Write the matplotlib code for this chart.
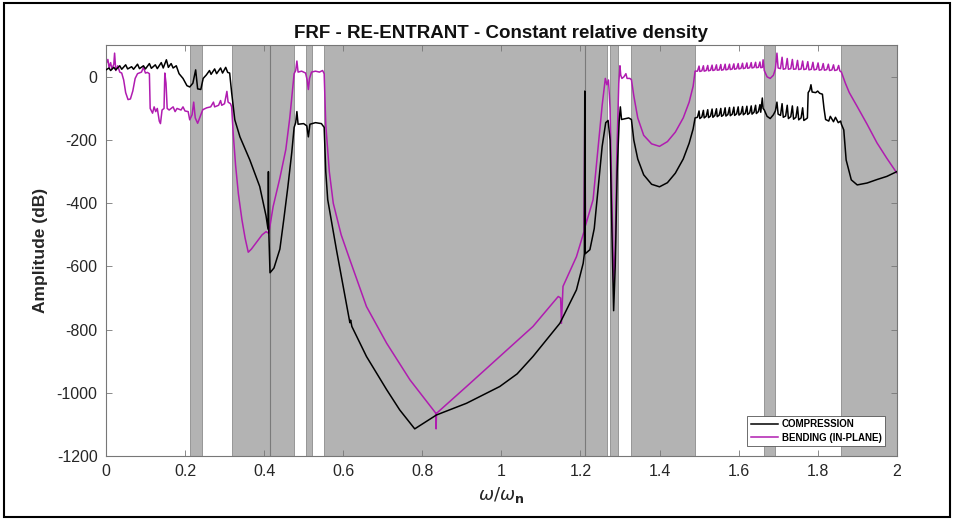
import matplotlib
matplotlib.use('Agg')
import matplotlib.pyplot as plt
from matplotlib.patches import Rectangle

plt.rcParams['font.family'] = ['Liberation Sans', 'DejaVu Sans']
plt.rcParams['axes.unicode_minus'] = False

# band limits (stop bands)
band_start = [0.212, 0.318, 0.506, 0.551, 1.274, 1.329, 1.665, 1.860]
band_end = [0.243, 0.476, 0.521, 1.266, 1.296, 1.489, 1.693, 2.000]
band_lines = [0.416, 1.211]

# COMPRESSION curve
comp_x = [0.000, 0.008, 0.012, 0.020, 0.025, 0.035, 0.040, 0.050, 0.055, 0.065,
          0.070, 0.080, 0.085, 0.095, 0.100, 0.110, 0.115, 0.125, 0.130, 0.140,
          0.145, 0.153, 0.158, 0.165, 0.170, 0.178, 0.185, 0.195, 0.205, 0.212,
          0.220, 0.227, 0.232, 0.240, 0.246, 0.254, 0.262, 0.266, 0.275, 0.280,
          0.290, 0.295, 0.303, 0.308, 0.313, 0.318, 0.326, 0.339, 0.364, 0.389,
          0.405, 0.410, 0.411, 0.412, 0.415, 0.425, 0.440, 0.450, 0.460, 0.470,
          0.476, 0.480, 0.483, 0.486, 0.500, 0.508, 0.512, 0.516, 0.530, 0.545,
          0.552, 0.556, 0.561, 0.583, 0.617, 0.619, 0.622, 0.659, 0.710, 0.743,
          0.781, 0.836, 0.912, 0.996, 1.040, 1.080, 1.148, 1.190, 1.207, 1.210,
          1.211, 1.212, 1.224, 1.235, 1.245, 1.255, 1.264, 1.270, 1.275, 1.279,
          1.284, 1.288, 1.293, 1.298, 1.301, 1.304, 1.315, 1.322, 1.329, 1.335,
          1.345, 1.360, 1.380, 1.400, 1.420, 1.440, 1.460, 1.475, 1.485, 1.490,
          1.496, 1.500, 1.502, 1.507, 1.511, 1.513, 1.518, 1.522, 1.524, 1.529,
          1.533, 1.535, 1.540, 1.544, 1.546, 1.551, 1.555, 1.557, 1.562, 1.566,
          1.568, 1.573, 1.577, 1.579, 1.584, 1.588, 1.590, 1.595, 1.599, 1.601,
          1.606, 1.610, 1.612, 1.617, 1.621, 1.623, 1.628, 1.632, 1.634, 1.639,
          1.643, 1.645, 1.650, 1.654, 1.656, 1.660, 1.662, 1.665, 1.672, 1.680,
          1.688, 1.693, 1.697, 1.700, 1.706, 1.710, 1.713, 1.719, 1.723, 1.726,
          1.732, 1.736, 1.739, 1.745, 1.749, 1.752, 1.758, 1.762, 1.765, 1.770,
          1.774, 1.776, 1.780, 1.783, 1.786, 1.795, 1.800, 1.805, 1.812, 1.816,
          1.820, 1.828, 1.832, 1.840, 1.845, 1.852, 1.858, 1.860, 1.866, 1.872,
          1.885, 1.900, 1.925, 1.950, 1.975, 2.000]
comp_y = [22, 28, 20, 30, 22, 35, 24, 38, 25, 32,
          24, 40, 26, 35, 25, 42, 27, 38, 26, 45,
          28, 54, 30, 42, 28, 35, 10, -5, -28, -32,
          -20, 22, -38, -40, -5, 6, 20, 8, 25, 10,
          28, 12, 30, 14, 12, -50, -136, -190, -263, -347,
          -440, -482, -300, -490, -620, -605, -545, -450, -350, -240,
          -160, -145, -110, -150, -148, -155, -190, -150, -145, -148,
          -160, -300, -389, -547, -778, -770, -790, -885, -990, -1054,
          -1114, -1070, -1033, -980, -940, -885, -780, -674, -590, -560,
          -45, -560, -547, -480, -350, -220, -145, -138, -200, -450,
          -740, -600, -300, -140, -95, -135, -132, -130, -135, -200,
          -260, -310, -340, -348, -335, -305, -260, -210, -165, -130,
          -128, -108, -132, -127, -106, -130, -125, -104, -129, -124,
          -102, -128, -122, -101, -126, -121, -100, -125, -120, -98,
          -124, -119, -97, -123, -118, -96, -122, -117, -95, -121,
          -116, -94, -120, -115, -93, -119, -114, -92, -118, -112,
          -90, -116, -110, -88, -112, -67, -100, -105, -125, -132,
          -120, -108, -80, -118, -122, -85, -128, -124, -90, -132,
          -126, -92, -134, -128, -95, -136, -130, -98, -138, -134,
          -130, -50, -42, -25, -48, -50, -45, -52, -55, -100,
          -135, -140, -125, -142, -128, -145, -140, -150, -168, -263,
          -326, -342, -336, -325, -315, -300]

# BENDING (IN-PLANE) curve
bend_x = [0.000, 0.005, 0.008, 0.012, 0.015, 0.020, 0.022, 0.025, 0.030, 0.035,
          0.040, 0.045, 0.050, 0.056, 0.062, 0.068, 0.074, 0.080, 0.090, 0.095,
          0.100, 0.105, 0.110, 0.112, 0.118, 0.122, 0.126, 0.130, 0.135, 0.138,
          0.142, 0.147, 0.149, 0.152, 0.155, 0.160, 0.170, 0.175, 0.180, 0.190,
          0.195, 0.200, 0.208, 0.212, 0.218, 0.222, 0.226, 0.232, 0.240, 0.245,
          0.255, 0.265, 0.272, 0.275, 0.285, 0.290, 0.293, 0.300, 0.306, 0.309,
          0.315, 0.318, 0.322, 0.328, 0.335, 0.344, 0.352, 0.360, 0.368, 0.380,
          0.395, 0.405, 0.412, 0.423, 0.440, 0.455, 0.465, 0.472, 0.476, 0.480,
          0.483, 0.486, 0.495, 0.505, 0.509, 0.512, 0.515, 0.520, 0.530, 0.540,
          0.548, 0.552, 0.556, 0.565, 0.575, 0.595, 0.617, 0.659, 0.710, 0.769,
          0.834, 0.835, 0.836, 0.912, 0.996, 1.080, 1.144, 1.150, 1.152, 1.155,
          1.156, 1.190, 1.209, 1.211, 1.213, 1.232, 1.245, 1.255, 1.263, 1.267,
          1.271, 1.275, 1.280, 1.284, 1.288, 1.292, 1.297, 1.300, 1.302, 1.305,
          1.310, 1.315, 1.318, 1.325, 1.329, 1.335, 1.345, 1.360, 1.380, 1.400,
          1.420, 1.440, 1.460, 1.475, 1.485, 1.490,
          1.496, 1.500, 1.502, 1.507, 1.511, 1.513, 1.518, 1.522, 1.524, 1.529,
          1.533, 1.535, 1.540, 1.544, 1.546, 1.551, 1.555, 1.557, 1.562, 1.566,
          1.568, 1.573, 1.577, 1.579, 1.584, 1.588, 1.590, 1.595, 1.599, 1.601,
          1.606, 1.610, 1.612, 1.617, 1.621, 1.623, 1.628, 1.632, 1.634, 1.639,
          1.643, 1.645, 1.650, 1.654, 1.656, 1.660, 1.662, 1.665, 1.672, 1.680,
          1.688, 1.693, 1.697, 1.700, 1.706, 1.710, 1.713, 1.719, 1.723, 1.726,
          1.732, 1.736, 1.739, 1.745, 1.749, 1.752, 1.758, 1.762, 1.765, 1.771,
          1.775, 1.778, 1.784, 1.788, 1.791, 1.797, 1.801, 1.804, 1.810, 1.814,
          1.817, 1.823, 1.827, 1.830, 1.836, 1.840, 1.843, 1.849, 1.853, 1.856,
          1.860, 1.870, 1.880, 1.900, 1.925, 1.950, 1.975, 2.000]
bend_y = [40, 55, 30, 45, 25, 40, 75, 20, 35, 15,
          12, -10, -50, -72, -70, -45, -5, 10, 15, 30,
          12, 14, 10, -100, -115, -95, -110, -100, -140, -148,
          -105, -100, 12, -20, -100, -105, -95, -110, -100, -105,
          -95, -108, -110, -136, -120, -80, -130, -147, -120, -104,
          -98, -95, -80, -95, -90, -75, -90, -85, -46, -80,
          -85, -95, -180, -280, -370, -452, -510, -555, -545, -525,
          -500, -490, -495, -410, -320, -230, -130, -40, 10, 20,
          50, 15, 18, 12, -10, -40, -5, 15, 18, 15,
          20, 10, -150, -300, -400, -500, -579, -727, -843, -959,
          -1064, -1114, -1065, -980, -885, -790, -695, -700, -780, -690,
          -663, -569, -490, -140, -470, -389, -220, -90, -5, -25,
          -10, -100, -400, -650, -550, -250, -20, 35, 5, -5,
          0, 10, -5, -5, -9, -60, -130, -185, -212, -220,
          -205, -175, -130, -80, -30, 18,
          18, 34, 17, 19, 35, 18, 20, 36, 19, 21,
          37, 20, 22, 38, 21, 22, 39, 21, 23, 40,
          22, 24, 40, 23, 25, 41, 24, 26, 42, 25,
          27, 43, 26, 28, 44, 27, 29, 45, 28, 30,
          46, 29, 30, 47, 29, 30, 54, 20, 0, -5,
          5, 25, 75, 28, 26, 62, 24, 26, 58, 24,
          26, 55, 24, 25, 52, 23, 25, 50, 23, 25,
          48, 22, 24, 46, 22, 24, 44, 21, 23, 42,
          21, 23, 40, 20, 22, 38, 20, 22, 36, 19,
          15, -20, -50, -94, -150, -209, -258, -304]

fig = plt.figure(figsize=(9.54, 5.2), dpi=100)
ax = fig.add_axes([0.111, 0.123, 0.829, 0.790])

for x0, x1 in zip(band_start, band_end):
    ax.axvspan(x0, x1, facecolor='#b3b3b3', edgecolor='#8c8c8c', lw=0.6, zorder=0)
for xl in band_lines:
    ax.axvline(xl, color='#7a7a7a', lw=0.8, zorder=0.5)

ax.plot(comp_x, comp_y, color='black', lw=1.1, label='COMPRESSION', zorder=3)
ax.plot(bend_x, bend_y, color='#b01cb0', lw=1.1, label='BENDING (IN-PLANE)', zorder=2)

ax.set_xlim(0, 2)
ax.set_ylim(-1200, 100)
ax.set_xticks([0, 0.2, 0.4, 0.6, 0.8, 1, 1.2, 1.4, 1.6, 1.8, 2])
ax.set_xticklabels(['0', '0.2', '0.4', '0.6', '0.8', '1', '1.2', '1.4', '1.6', '1.8', '2'])
ax.set_yticks([0, -200, -400, -600, -800, -1000, -1200])
ax.tick_params(direction='in', top=True, right=True, length=4, width=0.6,
               color='#777777', labelsize=11.5, labelcolor='#262626', pad=6)
for sp in ax.spines.values():
    sp.set_color('#777777')
    sp.set_linewidth(0.8)

ax.set_title('FRF - RE-ENTRANT - Constant relative density', fontsize=13.5,
             fontweight='bold', color='#111111', pad=5)
ax.set_ylabel('Amplitude (dB)', fontsize=12.5, fontweight='bold', color='#262626', labelpad=6)
ax.set_xlabel(r'$\omega/\omega_{\mathbf{n}}$', fontsize=13, color='#262626', labelpad=4)

leg = ax.legend(loc='lower right', bbox_to_anchor=(0.985, 0.024), borderaxespad=0,
                prop={'weight': 'bold', 'size': 7}, fancybox=False,
                framealpha=1, edgecolor='#555555', handlelength=2.8,
                borderpad=0.35, labelspacing=0.35, handletextpad=0.4)
leg.get_frame().set_linewidth(0.6)

# outer border of the picture
fig.patches.append(Rectangle((0.004, 0.006), 0.992, 0.988, transform=fig.transFigure,
                             fill=False, edgecolor='black', lw=1.5))

fig.savefig('out.png', dpi=100)
